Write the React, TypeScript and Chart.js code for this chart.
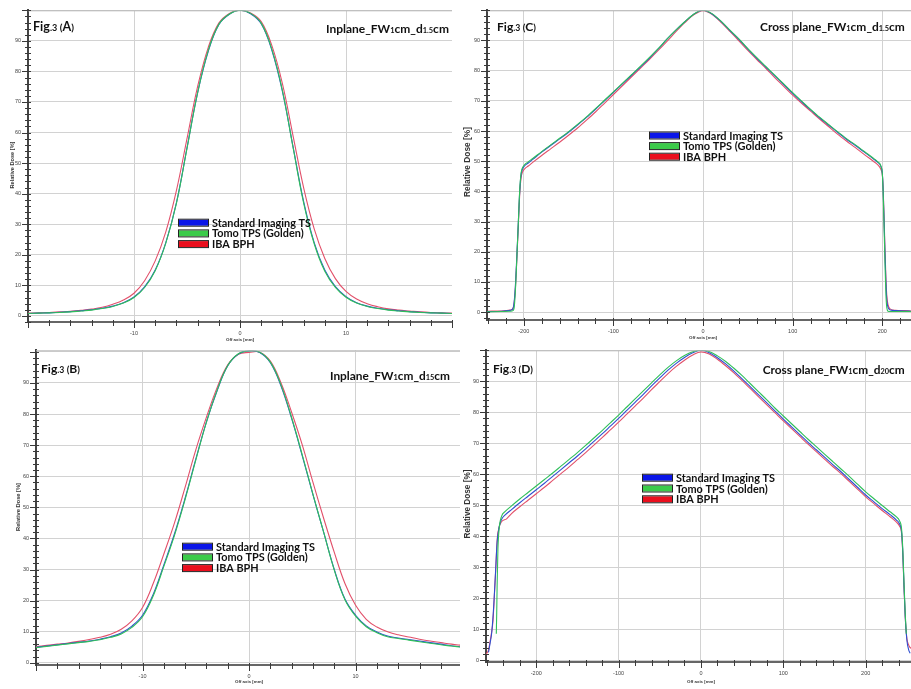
import React, { useEffect, useRef } from 'react';
import { Chart, registerables } from 'chart.js';

Chart.register(...registerables);

const SERIES_NAMES = ['Standard Imaging TS', 'Tomo TPS (Golden)', 'IBA BPH'];
const LINE_COLORS = ['#2f4fd0', '#2fbf5a', '#e2506a'];
const SWATCH_COLORS = ['#0b16e8', '#3ccb4a', '#ea0f1e'];
const BOLD_FAMILY = 'Lato, "DejaVu Sans", sans-serif';
const SMALL_FAMILY = '"Liberation Sans", Arial, sans-serif';

// ---------- Fig.3 (A) Inplane FW1cm d1.5cm ----------
const xA = [-20, -19, -18, -17, -16, -15, -14, -13, -12, -11, -10, -9, -8, -7, -6, -5, -4, -3, -2, -1, 0, 1, 2, 3, 4, 5, 6, 7, 8, 9, 10, 11, 12, 13, 14, 15, 16, 17, 18, 19, 20];
const siA = [0.8, 0.9, 1.0, 1.2, 1.4, 1.7, 2.0, 2.5, 3.2, 4.3, 6.2, 9.5, 15, 24, 37, 55, 73, 86.5, 95.3, 98.7, 100, 98.9, 95.6, 87, 73.5, 55.5, 37.5, 24, 15, 9.6, 6.3, 4.3, 3.2, 2.5, 2.0, 1.7, 1.4, 1.2, 1.0, 0.9, 0.8];
const tpsA = [0.8, 0.9, 1.0, 1.1, 1.3, 1.6, 1.9, 2.4, 3.1, 4.2, 6.0, 9.3, 14.8, 23.8, 36.8, 54.8, 73, 86.8, 95.4, 98.8, 100, 99.0, 95.8, 87.3, 73.8, 55.2, 37, 23.6, 14.6, 9.3, 6.1, 4.2, 3.1, 2.4, 1.9, 1.6, 1.3, 1.1, 1.0, 0.9, 0.8];
const ibaA = [0.9, 1.0, 1.1, 1.3, 1.5, 1.8, 2.2, 2.8, 3.8, 5.2, 7.4, 11.5, 18, 27.5, 41, 58, 75, 87.8, 95.8, 99.0, 100, 99.1, 96.3, 88.5, 76, 59, 42, 28.5, 18.8, 12.2, 8.0, 5.5, 4.0, 3.0, 2.3, 1.9, 1.6, 1.3, 1.1, 1.0, 0.9];

// ---------- Fig.3 (B) Inplane FW1cm d15cm ----------
const xB = [-20, -19, -18, -17, -16, -15, -14, -13, -12, -11, -10, -9, -8, -7, -6, -5, -4, -3, -2, -1, 0, 1, 2, 3, 4, 5, 6, 7, 8, 9, 10, 11, 12, 13, 14, 15, 16, 17, 18, 19, 20];
const siB = [5.0, 5.4, 5.8, 6.2, 6.6, 7.0, 7.6, 8.4, 9.6, 11.8, 15.3, 22, 31.5, 41.5, 53, 65.5, 77.5, 87.5, 95.5, 99.3, 100.3, 99.8, 96.5, 89, 78.5, 66.5, 54, 42, 30, 20.5, 15.3, 11.9, 9.9, 8.6, 8.0, 7.5, 7.0, 6.5, 6.0, 5.5, 5.1];
const tpsB = [4.9, 5.3, 5.7, 6.1, 6.5, 6.9, 7.4, 8.2, 9.3, 11.4, 14.8, 21.5, 31, 41, 52.6, 65.2, 77.4, 87.6, 95.6, 99.4, 100.3, 99.9, 96.7, 89.3, 78.8, 66.8, 54.2, 42, 29.8, 20.3, 15, 11.6, 9.7, 8.4, 7.8, 7.3, 6.8, 6.3, 5.8, 5.4, 5.0];
const ibaB = [5.2, 5.6, 6.0, 6.4, 6.9, 7.5, 8.2, 9.2, 10.8, 13.5, 17.8, 25.5, 35, 45, 56.5, 68.5, 79, 88.5, 95.8, 99.2, 99.8, 99.9, 97, 90, 80.5, 70, 58, 46.5, 35.5, 25.5, 18.5, 14, 11.5, 10.0, 9.0, 8.3, 7.6, 7.0, 6.5, 6.0, 5.6];

// ---------- Fig.3 (C) Cross plane FW1cm d1.5cm ----------
const xC = [-241, -225, -215, -212, -210.5, -209, -207.5, -206, -204.5, -203, -201.5, -199, -195, -190, -180, -170, -160, -150, -140, -130, -120, -110, -100, -90, -80, -70, -60, -50, -40, -30, -20, -10, 0, 10, 20, 30, 40, 50, 60, 70, 80, 90, 100, 110, 120, 130, 140, 150, 160, 170, 180, 190, 195, 198.5, 200, 201, 202, 203, 204, 205, 206.5, 209, 215, 225, 232];
const siC = [0.2, 0.3, 0.6, 1.2, 4, 10.5, 20, 30, 40, 45.5, 47.3, 48.5, 49.4, 50.6, 53, 55.2, 57.4, 59.6, 62, 64.5, 67.2, 70, 72.8, 75.6, 78.4, 81.2, 84.1, 87.2, 90.5, 93.5, 96.3, 98.8, 100, 98.8, 96.3, 93.3, 90.4, 87.1, 84.1, 81.2, 78.3, 75.4, 72.5, 69.7, 67, 64.4, 62, 59.6, 57.3, 55.2, 53, 50.8, 49.6, 48.2, 46, 40, 30, 19, 10, 4, 1.5, 0.7, 0.5, 0.4, 0.3];
const tpsC = [0.1, 0.2, 0.3, 0.5, 2, 9, 19.5, 30, 40.5, 46, 47.8, 48.9, 49.8, 50.9, 53.2, 55.4, 57.6, 59.8, 62.2, 64.7, 67.4, 70.2, 73, 75.8, 78.6, 81.4, 84.3, 87.3, 90.5, 93.5, 96.3, 98.8, 100.1, 98.9, 96.4, 93.4, 90.5, 87.3, 84.3, 81.4, 78.5, 75.6, 72.7, 69.9, 67.2, 64.6, 62.2, 59.8, 57.5, 55.4, 53.2, 51, 49.8, 48.4, 46, 39, 28, 16, 6, 1.5, 0.3, 0.2, 0.2, 0.2, 0.2];
const ibaC = [0.3, 0.4, 0.7, 1.3, 3.5, 9.5, 19, 29, 39, 44.5, 46.3, 47.5, 48.4, 49.6, 51.9, 54.1, 56.3, 58.6, 61, 63.6, 66.3, 69.2, 72.1, 75, 77.9, 80.8, 83.7, 86.7, 89.8, 93, 96, 98.6, 99.9, 98.7, 96, 93, 89.9, 86.7, 83.7, 80.8, 77.7, 74.8, 71.9, 69.2, 66.6, 64, 61.5, 59, 56.7, 54.5, 52.2, 50, 48.8, 47.2, 45.5, 40.5, 31, 20.5, 11.5, 5.5, 2.3, 1, 0.6, 0.5, 0.4];

// ---------- Fig.3 (D) Cross plane FW1cm d20cm ----------
const xSiD = [-258, -256, -254, -251.5, -249.5, -247.5, -245, -242, -238, -230, -220, -210, -200, -190, -180, -170, -160, -150, -140, -130, -120, -110, -100, -90, -80, -70, -60, -50, -40, -30, -20, -10, 0, 10, 20, 30, 40, 50, 60, 70, 80, 90, 100, 110, 120, 130, 140, 150, 160, 170, 180, 190, 200, 210, 220, 230, 237, 241, 243.5, 245, 246.5, 248, 250, 252, 254];
const siD = [2.5, 5.5, 9, 18, 28, 38, 43, 45.5, 46.8, 48.6, 50.8, 52.9, 55, 57.1, 59.3, 61.5, 63.7, 65.9, 68.2, 70.6, 73, 75.5, 78, 80.6, 83.2, 85.8, 88.5, 91.1, 93.6, 95.8, 97.7, 99.2, 100, 99.2, 97.6, 95.6, 93.3, 90.8, 88.2, 85.6, 83, 80.4, 77.8, 75.3, 72.8, 70.3, 67.9, 65.5, 63.1, 60.8, 58.3, 55.8, 53.3, 51.1, 48.9, 46.9, 45.3, 44, 41.5, 35, 24, 14, 6.5, 3.5, 2.2];
const xTpsD = [-248.5, -248, -247.5, -246.5, -245, -242, -238, -230, -220, -210, -200, -190, -180, -170, -160, -150, -140, -130, -120, -110, -100, -90, -80, -70, -60, -50, -40, -30, -20, -10, 0, 10, 20, 30, 40, 50, 60, 70, 80, 90, 100, 110, 120, 130, 140, 150, 160, 170, 180, 190, 200, 210, 220, 230, 237, 241, 243.5, 245, 246.5, 248, 249.3];
const tpsD = [8.5, 15, 24, 36, 42.5, 46.5, 47.9, 49.8, 52, 54.1, 56.2, 58.3, 60.4, 62.6, 64.8, 67, 69.3, 71.7, 74.1, 76.6, 79.1, 81.7, 84.3, 86.9, 89.5, 92.1, 94.5, 96.6, 98.3, 99.5, 100.1, 99.6, 98.2, 96.4, 94.2, 91.8, 89.2, 86.6, 84, 81.3, 78.8, 76.3, 73.8, 71.3, 68.9, 66.5, 64.1, 61.7, 59.3, 56.8, 54.3, 52.1, 49.9, 47.8, 46.3, 45, 42.5, 36, 25, 15, 8.5];
const xIbaD = [-261, -258, -256.5, -254.5, -252.5, -251, -249.3, -247.3, -245, -242.4, -236, -230, -220, -210, -200, -190, -180, -170, -160, -150, -140, -130, -120, -110, -100, -90, -80, -70, -60, -50, -40, -30, -20, -10, 0, 10, 20, 30, 40, 50, 60, 70, 80, 90, 100, 110, 120, 130, 140, 150, 160, 170, 180, 190, 200, 210, 220, 230, 237, 241, 243.5, 245, 246.5, 248, 250, 252, 253.5, 255];
const ibaD = [2, 3.2, 5.3, 8.5, 12.7, 20, 28.7, 39.3, 43, 44.6, 45.6, 47.3, 49.5, 51.6, 53.7, 55.8, 58, 60.2, 62.4, 64.7, 67, 69.4, 71.8, 74.3, 76.8, 79.4, 82, 84.6, 87.3, 89.9, 92.5, 94.8, 96.8, 98.5, 99.5, 98.8, 97.1, 95, 92.7, 90.2, 87.6, 85, 82.4, 79.8, 77.2, 74.7, 72.2, 69.7, 67.3, 64.9, 62.5, 60.2, 57.7, 55.2, 52.7, 50.5, 48.3, 46.2, 44.6, 43.3, 41, 34.5, 23.5, 14, 7, 5, 4.2, 3.8];

type Seg = { t: string; s: number };
type Series = { x: number[]; y: number[] };
type PanelCfg = {
  key: string;
  smooth: 'bezier' | 'monotone';
  box: { left: number; top: number; width: number; height: number };
  area: { left: number; top: number; bottom: number };
  x: { min: number; max: number; major: number; minor: number };
  y: { min: number; max: number };
  series: Series[];
  fig: { seg: Seg[]; x: number; base: number; w: number };
  title: { seg: Seg[]; x: number; base: number; w: number };
  legend: { x: number; y: number; gap: number; textW: number };
  yTitle: { x: number; y: number; w: number };
  xTitle: { y: number; w: number };
};

const figSeg = (letter: string): Seg[] => [
  { t: 'Fig', s: 1 },
  { t: '.3', s: 0.72 },
  { t: ' (', s: 0.8 },
  { t: letter, s: 1 },
  { t: ')', s: 0.8 },
];
const titleSeg = (plane: string, depth: string): Seg[] => [
  { t: plane + '_FW', s: 1 },
  { t: '1', s: 0.62 },
  { t: 'cm_d', s: 1 },
  { t: depth, s: 0.62 },
  { t: 'cm', s: 1 },
];

const PANELS: PanelCfg[] = [
  {
    key: 'A',
    smooth: 'bezier',
    box: { left: 0, top: 0, width: 460, height: 345 },
    area: { left: 28, top: 5, bottom: 322 },
    x: { min: -20, max: 20, major: 10, minor: 2 },
    y: { min: -2, max: 100 },
    series: [{ x: xA, y: siA }, { x: xA, y: tpsA }, { x: xA, y: ibaA }],
    fig: { seg: figSeg('A'), x: 33, base: 30.7, w: 41 },
    title: { seg: titleSeg('Inplane', '1.5'), x: 326, base: 33, w: 123 },
    legend: { x: 178, y: 222.7, gap: 10.7, textW: 99 },
    yTitle: { x: 12, y: 165, w: 47 },
    xTitle: { y: 340, w: 28 },
  },
  {
    key: 'C',
    smooth: 'monotone',
    box: { left: 460, top: 0, width: 451, height: 340 },
    area: { left: 27, top: 5, bottom: 320 },
    x: { min: -241, max: 232, major: 100, minor: 20 },
    y: { min: -2.6, max: 100 },
    series: [{ x: xC, y: siC }, { x: xC, y: tpsC }, { x: xC, y: ibaC }],
    fig: { seg: figSeg('C'), x: 37, base: 30.7, w: 39 },
    title: { seg: titleSeg('Cross plane', '1.5'), x: 300, base: 30.7, w: 145 },
    legend: { x: 189, y: 135.5, gap: 10.6, textW: 100 },
    yTitle: { x: 8, y: 162, w: 70 },
    xTitle: { y: 338, w: 28 },
  },
  {
    key: 'B',
    smooth: 'bezier',
    box: { left: 0, top: 340, width: 460, height: 349 },
    area: { left: 36, top: 7, bottom: 325 },
    x: { min: -20, max: 19.8, major: 10, minor: 2 },
    y: { min: -0.7, max: 100.5 },
    series: [{ x: xB, y: siB }, { x: xB, y: tpsB }, { x: xB, y: ibaB }],
    fig: { seg: figSeg('B'), x: 41, base: 33.3, w: 39 },
    title: { seg: titleSeg('Inplane', '15'), x: 330, base: 40, w: 120 },
    legend: { x: 182, y: 206.7, gap: 10.7, textW: 99 },
    yTitle: { x: 18, y: 167, w: 48 },
    xTitle: { y: 342, w: 28 },
  },
  {
    key: 'D',
    smooth: 'monotone',
    box: { left: 460, top: 340, width: 451, height: 349 },
    area: { left: 26, top: 6, bottom: 322 },
    x: { min: -261, max: 255, major: 100, minor: 20 },
    y: { min: -0.6, max: 100 },
    series: [{ x: xSiD, y: siD }, { x: xTpsD, y: tpsD }, { x: xIbaD, y: ibaD }],
    fig: { seg: figSeg('D'), x: 33, base: 33.3, w: 40 },
    title: { seg: titleSeg('Cross plane', '20'), x: 302.7, base: 34, w: 142 },
    legend: { x: 182, y: 137.7, gap: 10.8, textW: 99 },
    yTitle: { x: 8, y: 164, w: 69 },
    xTitle: { y: 342, w: 28 },
  },
];

function drawRich(ctx: CanvasRenderingContext2D, segs: Seg[], x: number, base: number, targetW: number) {
  let total = 0;
  for (const sg of segs) {
    ctx.font = `bold ${10 * sg.s}px ${BOLD_FAMILY}`;
    total += ctx.measureText(sg.t).width;
  }
  const k = targetW / total;
  let cx = x;
  ctx.textBaseline = 'alphabetic';
  ctx.textAlign = 'left';
  for (const sg of segs) {
    ctx.font = `bold ${10 * sg.s * k}px ${BOLD_FAMILY}`;
    ctx.fillText(sg.t, cx, base);
    cx += ctx.measureText(sg.t).width;
  }
}

function fitSize(ctx: CanvasRenderingContext2D, text: string, weight: string, family: string, targetW: number) {
  ctx.font = `${weight} 10px ${family}`;
  return (10 * targetW) / ctx.measureText(text).width;
}

function makeDecor(cfg: PanelCfg) {
  return {
    id: 'decor' + cfg.key,
    afterDraw(chart: any) {
      const ctx: CanvasRenderingContext2D = chart.ctx;
      const { left, right, top, bottom } = chart.chartArea;
      const xs = chart.scales.x;
      const ys = chart.scales.y;
      ctx.save();
      // top frame
      ctx.strokeStyle = '#b8b8b8';
      ctx.lineWidth = 1;
      ctx.beginPath();
      ctx.moveTo(left, top + 0.5);
      ctx.lineTo(right, top + 0.5);
      ctx.stroke();
      // y tick marks every 2 %
      ctx.strokeStyle = '#3a3a3a';
      ctx.lineWidth = 1;
      const yStart = Math.ceil(cfg.y.min / 2) * 2;
      for (let i = 0; yStart + 2 * i <= cfg.y.max; i++) {
        const v = yStart + 2 * i;
        const py = Math.round(ys.getPixelForValue(v)) + 0.5;
        const major = v % 10 === 0;
        ctx.beginPath();
        ctx.moveTo(left - (major ? 6 : 3), py);
        ctx.lineTo(left + 3, py);
        ctx.stroke();
      }
      // x tick marks
      const m = cfg.x.minor;
      const xStart = Math.ceil(cfg.x.min / m) * m;
      for (let i = 0; xStart + m * i <= cfg.x.max; i++) {
        const v = xStart + m * i;
        const px = Math.round(xs.getPixelForValue(v)) + 0.5;
        const major = v % cfg.x.major === 0;
        ctx.beginPath();
        ctx.moveTo(px, bottom - 2);
        ctx.lineTo(px, bottom + (major ? 6 : 4));
        ctx.stroke();
      }
      // axis titles
      ctx.fillStyle = '#333';
      const ySize = fitSize(ctx, 'Relative Dose [%]', 'bold', SMALL_FAMILY, cfg.yTitle.w);
      ctx.font = `bold ${ySize}px ${SMALL_FAMILY}`;
      ctx.textAlign = 'center';
      ctx.textBaseline = 'middle';
      ctx.save();
      ctx.translate(cfg.yTitle.x, cfg.yTitle.y);
      ctx.rotate(-Math.PI / 2);
      ctx.fillText('Relative Dose [%]', 0, 0);
      ctx.restore();
      const xSize = fitSize(ctx, 'Off axis [mm]', 'bold', SMALL_FAMILY, cfg.xTitle.w);
      ctx.font = `bold ${xSize}px ${SMALL_FAMILY}`;
      ctx.fillText('Off axis [mm]', xs.getPixelForValue(0), cfg.xTitle.y);
      // figure label + panel title
      ctx.fillStyle = '#111';
      drawRich(ctx, cfg.fig.seg, cfg.fig.x, cfg.fig.base, cfg.fig.w);
      drawRich(ctx, cfg.title.seg, cfg.title.x, cfg.title.base, cfg.title.w);
      // legend
      const lg = cfg.legend;
      const lSize = fitSize(ctx, SERIES_NAMES[0], 'bold', BOLD_FAMILY, lg.textW);
      for (let i = 0; i < SERIES_NAMES.length; i++) {
        const ry = lg.y + i * lg.gap;
        ctx.fillStyle = SWATCH_COLORS[i];
        ctx.fillRect(lg.x, ry - 3, 30, 6);
        ctx.strokeStyle = '#222';
        ctx.lineWidth = 1;
        ctx.strokeRect(lg.x + 0.5, ry - 3.5, 30, 7);
        ctx.fillStyle = '#111';
        ctx.font = `bold ${lSize}px ${BOLD_FAMILY}`;
        ctx.textAlign = 'left';
        ctx.textBaseline = 'middle';
        ctx.fillText(SERIES_NAMES[i], lg.x + 34, ry + 0.5);
      }
      ctx.restore();
    },
  };
}

function Panel({ cfg }: { cfg: PanelCfg }) {
  const ref = useRef<HTMLCanvasElement>(null);
  useEffect(() => {
    const canvas = ref.current;
    if (!canvas) return;
    const xMajorShown = (v: number) => v % cfg.x.major === 0 && v > cfg.x.min && v < cfg.x.max;
    const yMajorShown = (v: number) => v % 10 === 0 && v >= 0 && v < 100;
    const chart = new Chart(canvas, {
      type: 'line',
      data: {
        datasets: cfg.series.map((s, i) => ({
          label: SERIES_NAMES[i],
          data: s.x.map((x, j) => ({ x, y: s.y[j] })),
          borderColor: LINE_COLORS[i],
          backgroundColor: LINE_COLORS[i],
          borderWidth: 1.1,
          pointRadius: 0,
          fill: false,
          tension: cfg.smooth === 'bezier' ? 0.4 : 0,
          cubicInterpolationMode: cfg.smooth === 'monotone' ? 'monotone' : 'default',
          order: [1, 0, 2][i],
        })),
      },
      options: {
        responsive: false,
        maintainAspectRatio: false,
        animation: false,
        devicePixelRatio: 1,
        layout: { padding: { top: cfg.area.top, left: 0, right: 0, bottom: 0 } },
        plugins: { legend: { display: false }, tooltip: { enabled: false } },
        scales: {
          x: {
            type: 'linear',
            min: cfg.x.min,
            max: cfg.x.max,
            ticks: {
              stepSize: cfg.x.major,
              includeBounds: false,
              autoSkip: false,
              maxRotation: 0,
              padding: 8,
              color: '#444',
              font: { size: 5.5, family: SMALL_FAMILY },
              callback: (v: any) => (xMajorShown(Number(v)) ? String(v) : ''),
            },
            grid: {
              drawTicks: false,
              lineWidth: 1,
              color: (c: any) => (c.tick && xMajorShown(c.tick.value) ? '#d2d2d2' : 'rgba(0,0,0,0)'),
            },
            border: { color: '#666', width: 2 },
            afterFit: (s: any) => {
              s.height = cfg.box.height - cfg.area.bottom;
            },
          },
          y: {
            type: 'linear',
            min: cfg.y.min,
            max: cfg.y.max,
            ticks: {
              stepSize: 10,
              includeBounds: false,
              autoSkip: false,
              padding: 7,
              color: '#444',
              font: { size: 5.5, family: SMALL_FAMILY },
              callback: (v: any) => (yMajorShown(Number(v)) ? String(v) : ''),
            },
            grid: {
              drawTicks: false,
              lineWidth: 1,
              color: (c: any) => (c.tick && c.tick.value % 10 === 0 && c.tick.value >= 0 ? '#d2d2d2' : 'rgba(0,0,0,0)'),
            },
            border: { color: '#444', width: 2 },
            afterFit: (s: any) => {
              s.width = cfg.area.left;
            },
          },
        },
      },
      plugins: [makeDecor(cfg)],
    } as any);
    return () => chart.destroy();
  }, [cfg]);
  return (
    <canvas
      ref={ref}
      width={cfg.box.width}
      height={cfg.box.height}
      style={{ position: 'absolute', left: cfg.box.left, top: cfg.box.top, width: cfg.box.width, height: cfg.box.height }}
    />
  );
}

export default function App() {
  return (
    <div style={{ position: 'fixed', left: 0, top: 0, width: 911, height: 689, background: '#fff', overflow: 'hidden' }}>
      {PANELS.map((p) => (
        <Panel key={p.key} cfg={p} />
      ))}
    </div>
  );
}
